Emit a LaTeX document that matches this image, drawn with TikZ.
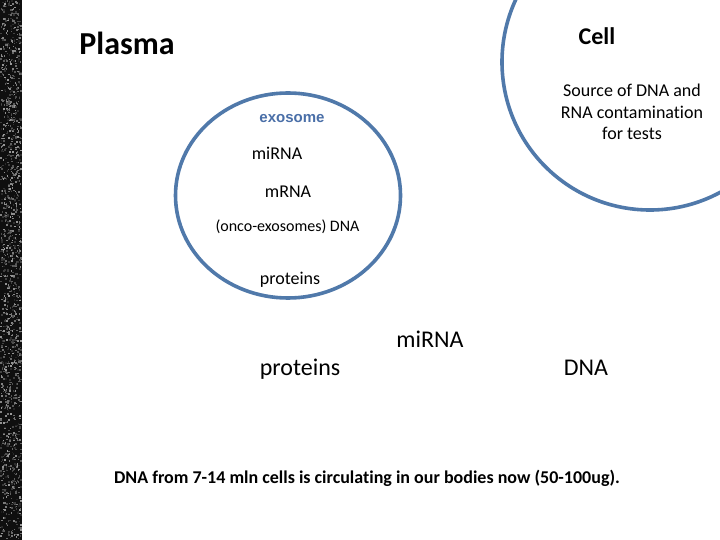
\documentclass[tikz,border=0pt]{standalone}
\usepackage{fontspec}
\setmainfont{Carlito}[RawFeature=-liga]
\newfontfamily\exofont{Liberation Sans}
\definecolor{ringblue}{RGB}{80,121,170}
\definecolor{exoblue}{RGB}{74,111,168}
\tikzset{
  ring/.style={draw=ringblue, line width=3.6pt},
  lbl/.style={anchor=base, inner sep=0pt, text=black},
  lblb/.style={lbl, font=\fontsize{18}{21.6}\selectfont},
  lblc/.style={lbl, font=\fontsize{24}{28.8}\selectfont},
}
\begin{document}
\begin{tikzpicture}[x=1pt,y=-1pt]
\useasboundingbox (0,0) rectangle (720,540);
\clip (0,0) rectangle (720,540);
\fill[white] (0,0) rectangle (720,540);
% noisy strip at left
\fill[black!94] (0,0) rectangle (22,540);
\pgfmathsetseed{11}
\foreach \i in {1,...,1400}{
  \pgfmathsetmacro{\px}{rnd*20.5}
  \pgfmathsetmacro{\py}{rnd*538}
  \pgfmathsetmacro{\pg}{12+rnd*50}
  \fill[white!\pg!black] (\px,\py) rectangle ++(1.6,1.6);
}
% rings
\draw[ring] (650,62) circle[radius=148];
\draw[ring] (288,195.5) ellipse[x radius=112.5, y radius=102.5];
% texts
\node[lbl, font=\fontsize{32}{38}\selectfont\bfseries] (plasma) at (127,55) {Plasma};
\node[lbl, font=\fontsize{24}{28.8}\selectfont\bfseries] (cell) at (597,45) {Cell};
\node[lblb] (src1) at (632,97) {Source of DNA and};
\node[lblb] (src2) at (632,118.5) {RNA contamination};
\node[lblb] (src3) at (632,140) {for tests};
\node[lbl, text=exoblue, font=\exofont\fontsize{15}{18}\selectfont\bfseries] (exo) at (292,122.5) {exosome};
\node[lblb] (mirna1) at (277,160) {miRNA};
\node[lblb] (mrna) at (288,197) {mRNA};
\node[lbl, font=\fontsize{16}{19.2}\selectfont] (onco) at (287.5,231) {(onco-exosomes) DNA};
\node[lblb] (prot1) at (290,284) {proteins};
\node[lblc] (mirna2) at (430,347) {miRNA};
\node[lblc] (prot2) at (300,375) {proteins};
\node[lblc] (dna) at (586,375) {DNA};
\node[lbl, font=\fontsize{18}{21.6}\selectfont\bfseries] (foot) at (367,483) {DNA from 7-14 mln cells is circulating in our bodies now (50-100ug).};
\end{tikzpicture}
\end{document}
